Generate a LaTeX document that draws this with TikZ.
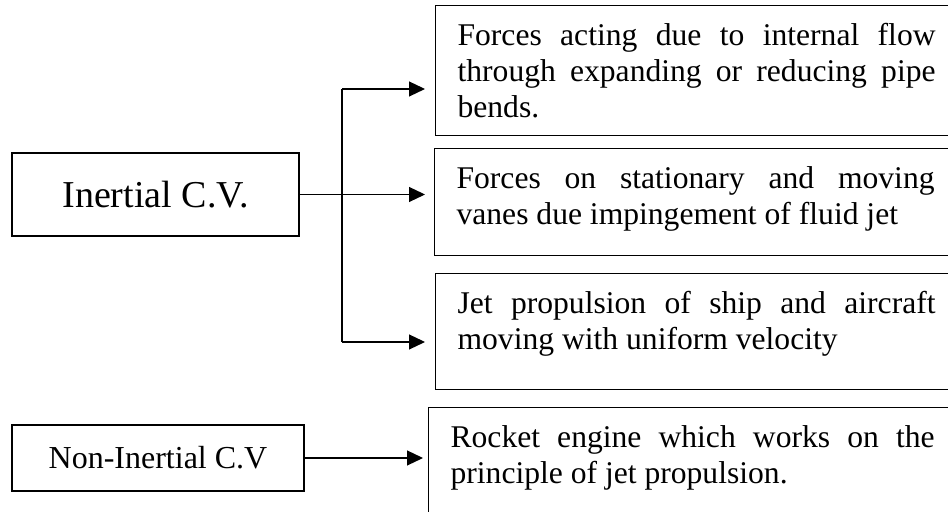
\documentclass[tikz,border=0pt]{standalone}
\usepackage{fontspec}
\setmainfont{Liberation Serif}
\usetikzlibrary{arrows.meta}
\tolerance=10000
\hbadness=10000
\tikzset{
  cvbox/.style={draw, line width=0.6pt, inner sep=0pt},
  itembox/.style={draw, line width=0.6pt, anchor=north west, inner xsep=11pt, inner ysep=8pt,
    text width=239pt, align=justify, text height=12pt,
    font=\fontsize{15.8}{18}\selectfont},
  arr/.style={line width=0.6pt, -{Triangle[length=8pt,width=7.5pt]}, shorten >=5pt}
}
\begin{document}
\begin{tikzpicture}[x=0.5pt,y=-0.5pt]
      \clip (0,0) rectangle (948,512);
      \node[cvbox, minimum width=143.5pt, minimum height=41.5pt, font=\fontsize{19}{22}\selectfont] (inertial) at (155.5,194.5) {Inertial C.V.};
      \node[cvbox, minimum width=146pt, minimum height=33pt, font=\fontsize{16}{18}\selectfont] (noninertial) at (158,458) {Non-Inertial C.V};

      \node[itembox, text depth=37pt] (pipebend) at (435,5) {Forces acting due to internal flow\linebreak through expanding or reducing pipe\linebreak bends.};
      \node[itembox, text depth=25.5pt] (vanes) at (434,148) {Forces on stationary and moving\linebreak vanes due impingement of fluid jet};
      \node[itembox, text depth=30pt] (jetprop) at (435,273) {Jet propulsion of ship and aircraft\linebreak moving with uniform velocity};
      \node[itembox, text depth=34pt, text width=242pt] (rocket) at (428,407) {Rocket engine which works on the\linebreak principle of jet propulsion.};

      \coordinate (top) at (342,89);
      \coordinate (bot) at (342,342);
      \draw[line width=0.6pt] (top) -- (bot);
      \foreach \from/\to in {top/pipebend, bot/jetprop}
        \draw[arr] (\from) -- (\from -| \to.west);
      \draw[arr, shorten >=4.5pt] (inertial.east) -- (inertial.east -| vanes.west);
      \draw[arr, shorten >=2.5pt] (noninertial.east) -- (noninertial.east -| rocket.west);
    \end{tikzpicture}
\end{document}
